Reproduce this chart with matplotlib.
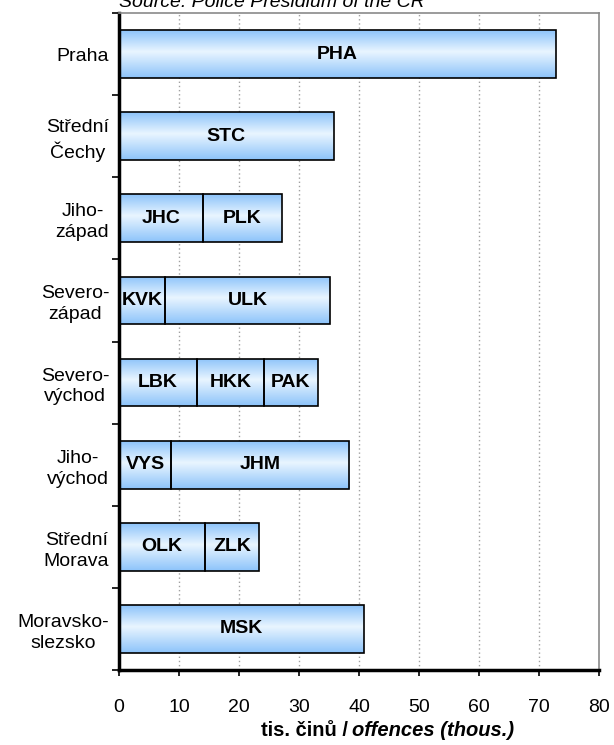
import numpy as np
import matplotlib
matplotlib.use("Agg")
import matplotlib.pyplot as plt
from matplotlib.colors import LinearSegmentedColormap
from matplotlib.ticker import FixedLocator, NullFormatter

plt.rcParams['font.family'] = ['Liberation Sans', 'DejaVu Sans']

# --- data ---
regions = ['Praha', 'Střední\nČechy', 'Jiho-\nzápad', 'Severo-\nzápad',
           'Severo-\nvýchod', 'Jiho-\nvýchod', 'Střední\nMorava', 'Moravsko-\nslezsko']
seg_labels = [['PHA'], ['STC'], ['JHC', 'PLK'], ['KVK', 'ULK'],
              ['LBK', 'HKK', 'PAK'], ['VYS', 'JHM'], ['OLK', 'ZLK'], ['MSK']]
seg_values = [[72.8], [35.8], [14.0, 13.1], [7.7, 27.4],
              [13.0, 11.1, 9.0], [8.7, 29.7], [14.4, 9.0], [40.8]]
x_ticks = [0, 10, 20, 30, 40, 50, 60, 70, 80]

# --- style ---
BAR_H = 0.58
FS = 14
grad = LinearSegmentedColormap.from_list(
    'blue_grad', [(0.0, '#8cc3fa'), (0.55, '#e9f5ff'), (1.0, '#8cc3fa')])
gradient = np.linspace(0, 1, 256).reshape(-1, 1)

fig = plt.figure(figsize=(6.14, 7.45), dpi=100)
ax = fig.add_axes([119/614, 1 - 670/745, 480/614, 657/745])

for i, (labs, vals) in enumerate(zip(seg_labels, seg_values)):
    left = 0.0
    for lab, v in zip(labs, vals):
        bar = ax.barh(i, v, left=left, height=BAR_H, facecolor='none',
                      edgecolor='black', linewidth=1.2, zorder=3)[0]
        im = ax.imshow(gradient, extent=[left, left + v, i + BAR_H/2, i - BAR_H/2],
                       cmap=grad, aspect='auto', origin='lower', zorder=2)
        im.set_clip_path(bar)
        ax.text(left + v/2, i, lab, ha='center', va='center',
                fontsize=FS, fontweight='bold', zorder=4)
        left += v

ax.set_xlim(0, 80)
ax.set_ylim(len(regions) - 0.5, -0.5)

# grid
for x in x_ticks[1:-1]:
    ax.axvline(x, color='#a0a0a0', linestyle=(0, (1, 2)), linewidth=1, zorder=1)

# y axis: labels at centres, tick marks at boundaries
ax.set_yticks(range(len(regions)))
ax.set_yticklabels(regions, fontsize=FS, multialignment='center', linespacing=1.3)
ax.tick_params(axis='y', which='major', length=0, pad=7)
ax.yaxis.set_minor_locator(FixedLocator(np.arange(-0.5, len(regions), 1)))
ax.yaxis.set_minor_formatter(NullFormatter())
ax.tick_params(axis='y', which='minor', length=5, width=1.2, direction='out')

ax.set_xticks(x_ticks)
ax.tick_params(axis='x', labelsize=FS, length=4, width=1.2, direction='out', pad=17)

for s in ['left', 'bottom']:
    ax.spines[s].set_linewidth(2.5)
    ax.spines[s].set_color('black')
for s in ['top', 'right']:
    ax.spines[s].set_linewidth(1.2)
    ax.spines[s].set_color('#8a8a8a')

# source line (cut at the top edge, as in the original)
fig.text(119/614, 1 - 7/745, 'Source: Police Presidium of the CR',
         fontsize=FS, style='italic', ha='left', va='baseline')

# x label, two parts
fig.text(348/614, 1 - 730/745, 'tis. činů /', fontsize=14.5, fontweight='bold',
         ha='right', va='center')
fig.text(352/614, 1 - 730/745, 'offences (thous.)', fontsize=14.5, fontweight='bold',
         style='italic', ha='left', va='center')

plt.savefig('out.png', dpi=100)
